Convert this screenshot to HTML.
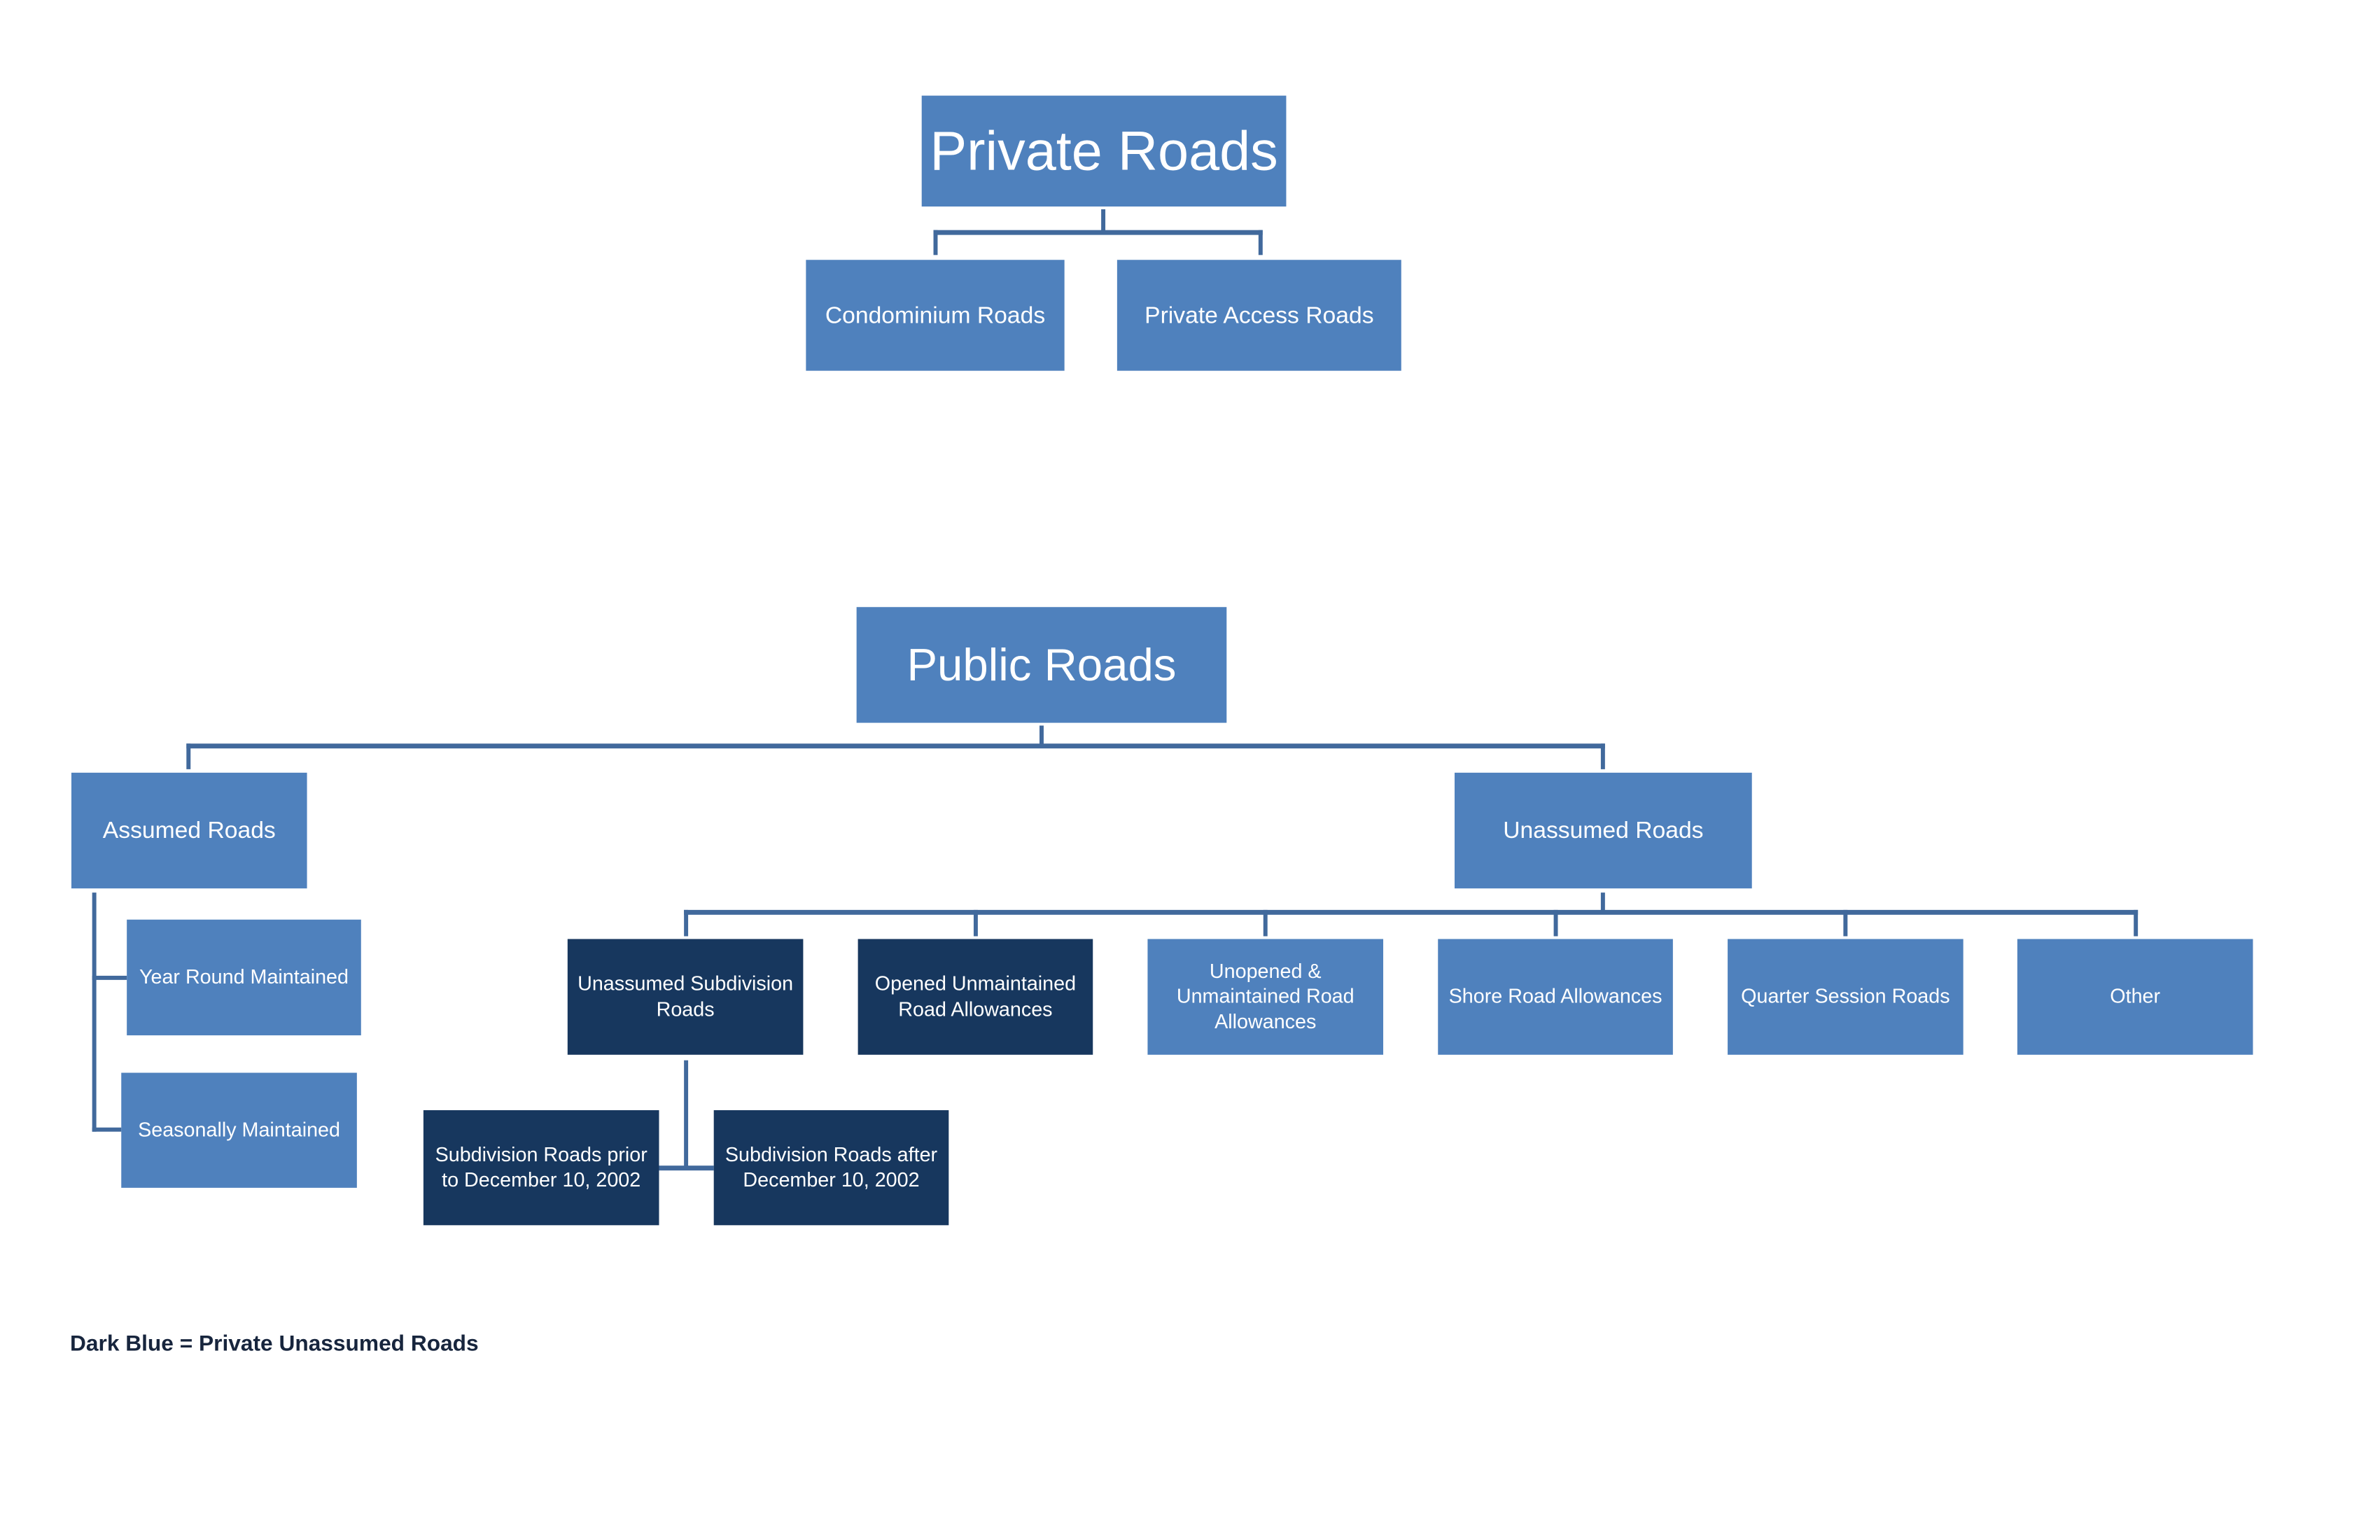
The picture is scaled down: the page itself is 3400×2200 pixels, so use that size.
<!DOCTYPE html>
<html><head><meta charset="utf-8"><style>
html,body{margin:0;padding:0;background:#fff;overflow:hidden}
#w{width:3400px;height:2200px;overflow:hidden;position:relative}
#c{position:absolute;left:0;top:0;width:3434px;height:2222px;transform:scale(0.99);transform-origin:0 0;font-family:"Liberation Sans Narrow","Liberation Sans",sans-serif}
.b{position:absolute;background:#4f81bd;color:#fff;display:flex;align-items:center;justify-content:center;text-align:center;line-height:1.25;font-size:29px;white-space:nowrap}
.d{background:#17375e}
.l{position:absolute;background:#41699c}
</style></head><body><div id="w"><div id="c">
<div class="b" style="left:1330px;top:138px;width:526px;height:160px;font-size:80px">Private Roads</div>
<div class="l" style="left:1589px;top:302px;width:6px;height:33px"></div>
<div class="l" style="left:1347px;top:332px;width:475px;height:7px"></div>
<div class="l" style="left:1347px;top:332px;width:6px;height:36px"></div>
<div class="l" style="left:1816px;top:332px;width:6px;height:36px"></div>
<div class="b" style="left:1163px;top:375px;width:373px;height:160px;font-size:34px">Condominium Roads</div>
<div class="b" style="left:1612px;top:375px;width:410px;height:160px;font-size:34px">Private Access Roads</div>
<div class="b" style="left:1236px;top:876px;width:534px;height:167px;font-size:66px">Public Roads</div>
<div class="l" style="left:1500px;top:1047px;width:6px;height:30px"></div>
<div class="l" style="left:269px;top:1073px;width:2047px;height:7px"></div>
<div class="l" style="left:269px;top:1073px;width:6px;height:37px"></div>
<div class="l" style="left:2310px;top:1073px;width:6px;height:37px"></div>
<div class="b" style="left:103px;top:1115px;width:340px;height:167px;font-size:34px">Assumed Roads</div>
<div class="b" style="left:2099px;top:1115px;width:429px;height:167px;font-size:34px">Unassumed Roads</div>
<div class="l" style="left:133px;top:1288px;width:6px;height:345px"></div>
<div class="l" style="left:133px;top:1408px;width:50px;height:6px"></div>
<div class="l" style="left:133px;top:1627px;width:42px;height:6px"></div>
<div class="b" style="left:183px;top:1327px;width:338px;height:167px">Year Round Maintained</div>
<div class="b" style="left:175px;top:1548px;width:340px;height:166px">Seasonally Maintained</div>
<div class="l" style="left:2310px;top:1288px;width:6px;height:30px"></div>
<div class="l" style="left:987px;top:1313px;width:2098px;height:7px"></div>
<div class="l" style="left:987px;top:1313px;width:6px;height:38px"></div>
<div class="l" style="left:1405px;top:1313px;width:6px;height:38px"></div>
<div class="l" style="left:1823px;top:1313px;width:6px;height:38px"></div>
<div class="l" style="left:2242px;top:1313px;width:6px;height:38px"></div>
<div class="l" style="left:2660px;top:1313px;width:6px;height:38px"></div>
<div class="l" style="left:3079px;top:1313px;width:6px;height:38px"></div>
<div class="b d" style="left:819px;top:1355px;width:340px;height:167px">Unassumed Subdivision<br>Roads</div>
<div class="b d" style="left:1238px;top:1355px;width:339px;height:167px">Opened Unmaintained<br>Road Allowances</div>
<div class="b" style="left:1656px;top:1355px;width:340px;height:167px">Unopened &amp;<br>Unmaintained Road<br>Allowances</div>
<div class="b" style="left:2075px;top:1355px;width:339px;height:167px">Shore Road Allowances</div>
<div class="b" style="left:2493px;top:1355px;width:340px;height:167px">Quarter Session Roads</div>
<div class="b" style="left:2911px;top:1355px;width:340px;height:167px">Other</div>
<div class="l" style="left:987px;top:1530px;width:6px;height:158px"></div>
<div class="l" style="left:951px;top:1682px;width:79px;height:7px"></div>
<div class="b d" style="left:611px;top:1602px;width:340px;height:166px">Subdivision Roads prior<br>to December 10, 2002</div>
<div class="b d" style="left:1030px;top:1602px;width:339px;height:166px">Subdivision Roads after<br>December 10, 2002</div>
<div style="position:absolute;left:101px;top:1920px;font-family:'Liberation Sans',sans-serif;font-weight:bold;font-size:32px;color:#17253d;white-space:nowrap">Dark Blue = Private Unassumed Roads</div>
</div></div></body></html>
